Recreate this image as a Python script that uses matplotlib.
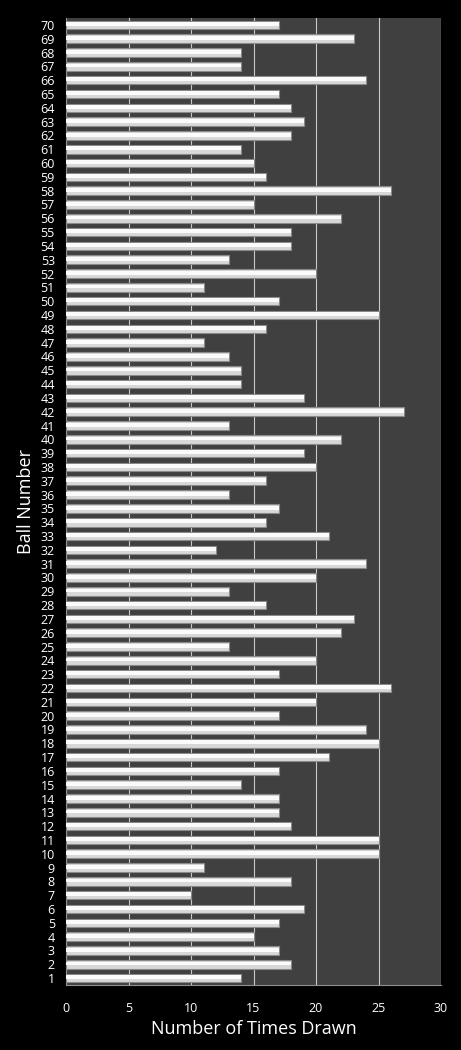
import numpy as np
import matplotlib
matplotlib.use("Agg")
import matplotlib.pyplot as plt

balls = list(range(1, 71))
times_drawn = [14, 18, 17, 15, 17, 19, 10, 18, 11, 25,
               25, 18, 17, 17, 14, 17, 21, 25, 24, 17,
               20, 26, 17, 20, 13, 22, 23, 16, 13, 20,
               24, 12, 21, 16, 17, 13, 16, 20, 19, 22,
               13, 27, 19, 14, 14, 13, 11, 16, 25, 17,
               11, 20, 13, 18, 18, 22, 15, 26, 16, 15,
               14, 18, 19, 18, 17, 24, 14, 14, 23, 17]

plt.rcParams['font.family'] = ['Open Sans', 'DejaVu Sans']

fig = plt.figure(figsize=(4.61, 10.5), dpi=100, facecolor='black')
ax = fig.add_axes([66 / 461, 65 / 1050, 375 / 461, 967 / 1050])
ax.set_facecolor('#404040')

y = np.arange(len(balls))
ax.barh(y, times_drawn, height=0.62, color='#d8d8d8', edgecolor='#8a8a8a',
        linewidth=0.8, zorder=3)
ax.barh(y + 0.06, times_drawn, height=0.28, color='#fbfbfb', linewidth=0, zorder=4)

ax.set_xlim(0, 30)
ax.set_ylim(-0.5, len(balls) - 0.5)
ax.set_xticks(range(0, 31, 5))
ax.set_yticks(y)
ax.set_yticklabels([str(b) for b in balls])
ax.grid(axis='x', color='#c8c8c8', linewidth=0.8, zorder=1)
ax.tick_params(colors='white', length=0, labelsize=9)
ax.tick_params(axis='x', pad=12)
ax.tick_params(axis='y', pad=8)
for s in ax.spines.values():
    s.set_visible(False)
ax.spines['left'].set_visible(True)
ax.spines['left'].set_color('#909090')
ax.spines['bottom'].set_visible(True)
ax.spines['bottom'].set_color('#909090')

ax.set_xlabel('Number of Times Drawn', color='white', fontsize=13)
ax.set_ylabel('Ball Number', color='white', fontsize=13, labelpad=4)

fig.savefig('out.png', facecolor='black')
